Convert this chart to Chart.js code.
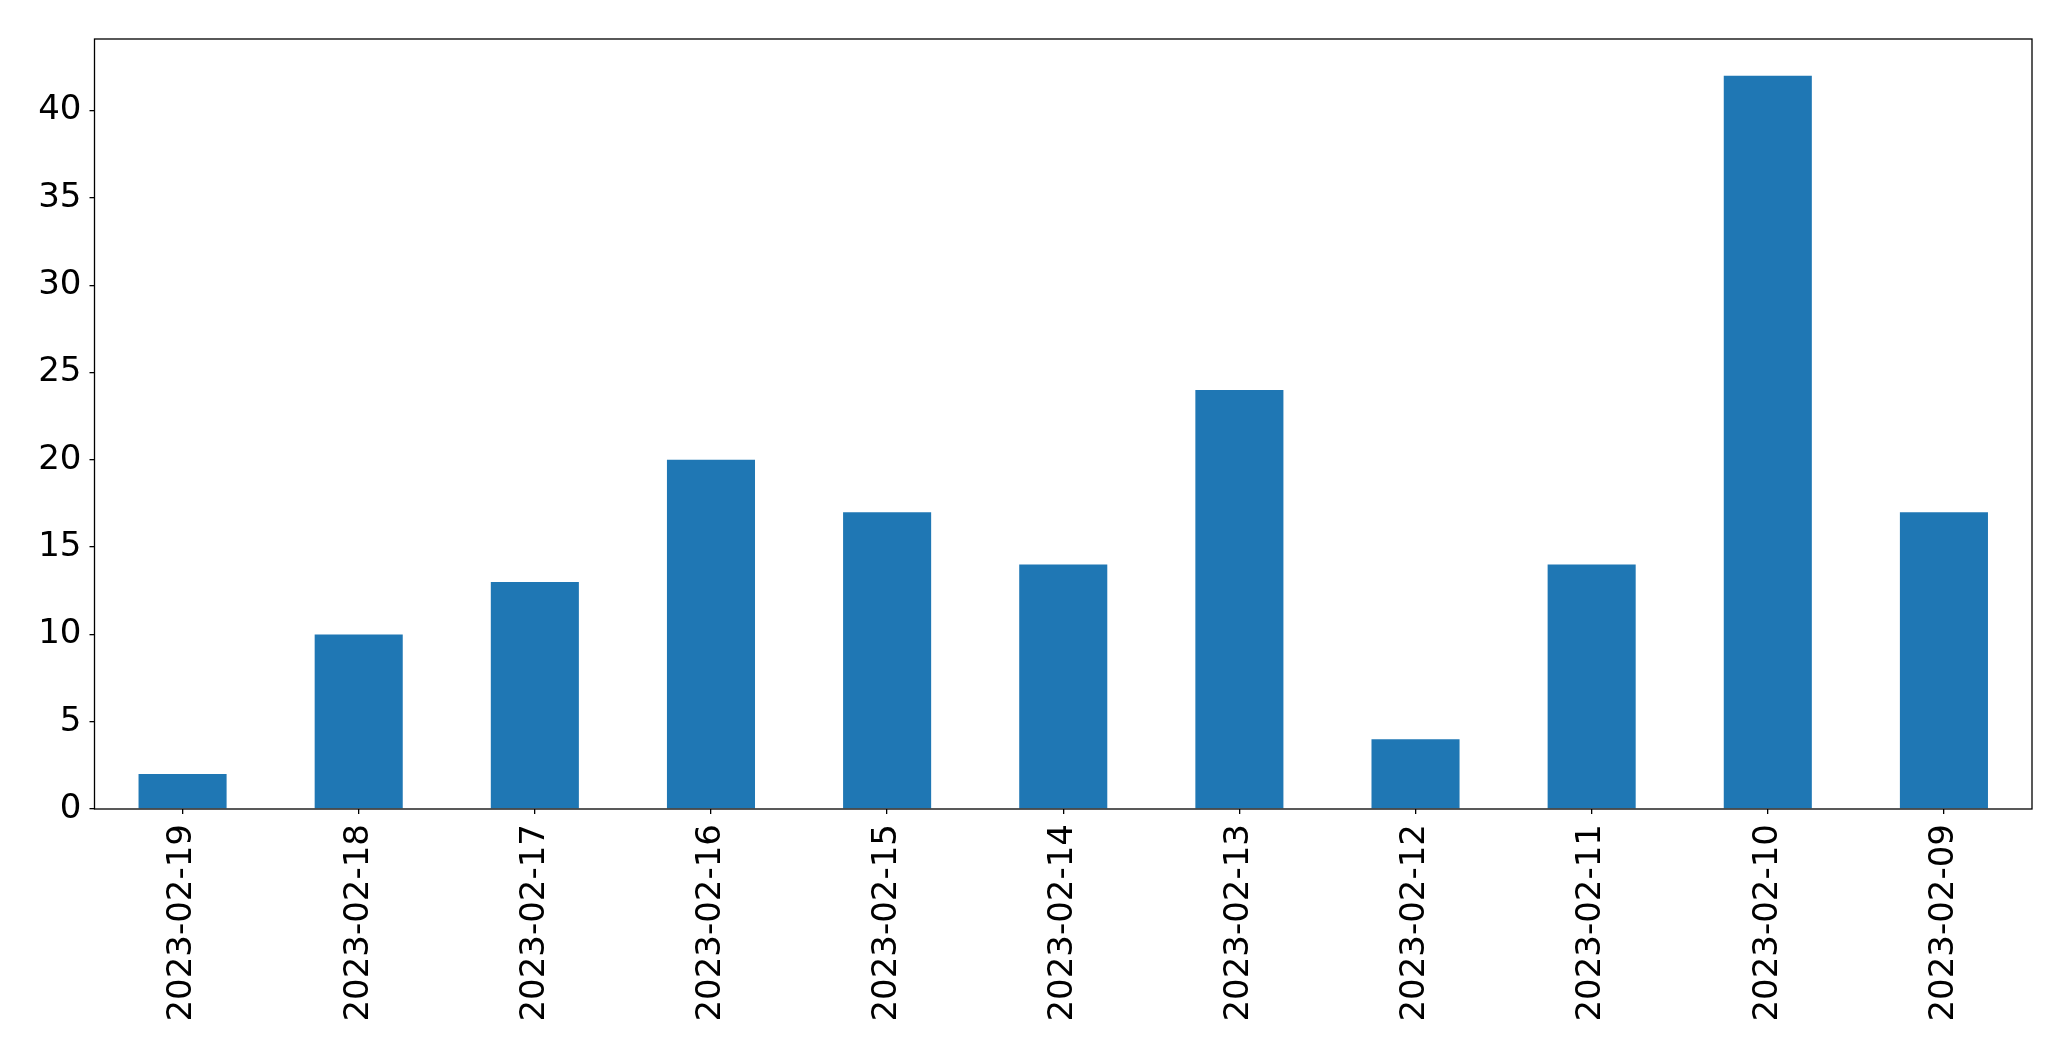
<!DOCTYPE html>
<html>
<head>
<meta charset="utf-8">
<script src="https://cdn.jsdelivr.net/npm/chart.js@4/dist/chart.umd.min.js"></script>
<style>
    html, body { margin: 0; padding: 0; background: #fff; }
    canvas { display: block; }
</style>
</head>
<body>
<canvas id="barChart" width="2071" height="1061"></canvas>
<script>
// dates as they appear on the x axis (newest first)
const days = ['2023-02-19', '2023-02-18', '2023-02-17', '2023-02-16', '2023-02-15', '2023-02-14',
              '2023-02-13', '2023-02-12', '2023-02-11', '2023-02-10', '2023-02-09'];
const counts = [2, 10, 13, 20, 17, 14, 24, 4, 14, 42, 17];
const yMax = 44.1;
const yStep = 5;

// frame around the plot area (matplotlib style box)
const frame = {
    id: 'frame',
    afterDraw(chart) {
        const { ctx, chartArea: a } = chart;
        ctx.save();
        ctx.strokeStyle = '#000'; ctx.lineWidth = 1.3;
        ctx.strokeRect(a.left, a.top, a.right - a.left, a.bottom - a.top);
        ctx.restore();
    }
};

const font = { family: '"DejaVu Sans", sans-serif', size: 34 };

new Chart(document.getElementById('barChart'), {
    type: 'bar',
    data: { labels: days, datasets: [{ data: counts, backgroundColor: '#1f77b4', borderWidth: 0, barPercentage: 0.5, categoryPercentage: 1 }] },
    options: {
        responsive: false, animation: false,
        layout: { padding: { top: 39, right: 39, left: 0, bottom: 0 } },
        plugins: { legend: { display: false }, tooltip: { enabled: false } },
        scales: {
            x: {
                grid: { display: true, offset: false, drawOnChartArea: false, tickLength: 5, color: '#000', lineWidth: 1.3 },
                border: { display: false },
                ticks: { color: '#000', font, minRotation: 90, maxRotation: 90, padding: 10, autoSkip: false },
                afterFit(s) { s.height = 252; }
            },
            y: {
                min: 0, max: yMax,
                grid: { display: true, drawOnChartArea: false, tickLength: 5, color: '#000', lineWidth: 1.3 },
                border: { display: false },
                ticks: { color: '#000', font, stepSize: yStep, includeBounds: false, padding: 8 },
                afterFit(s) { s.width = 94.5; }
            }
        }
    },
    plugins: [frame]
});
</script>
</body>
</html>
